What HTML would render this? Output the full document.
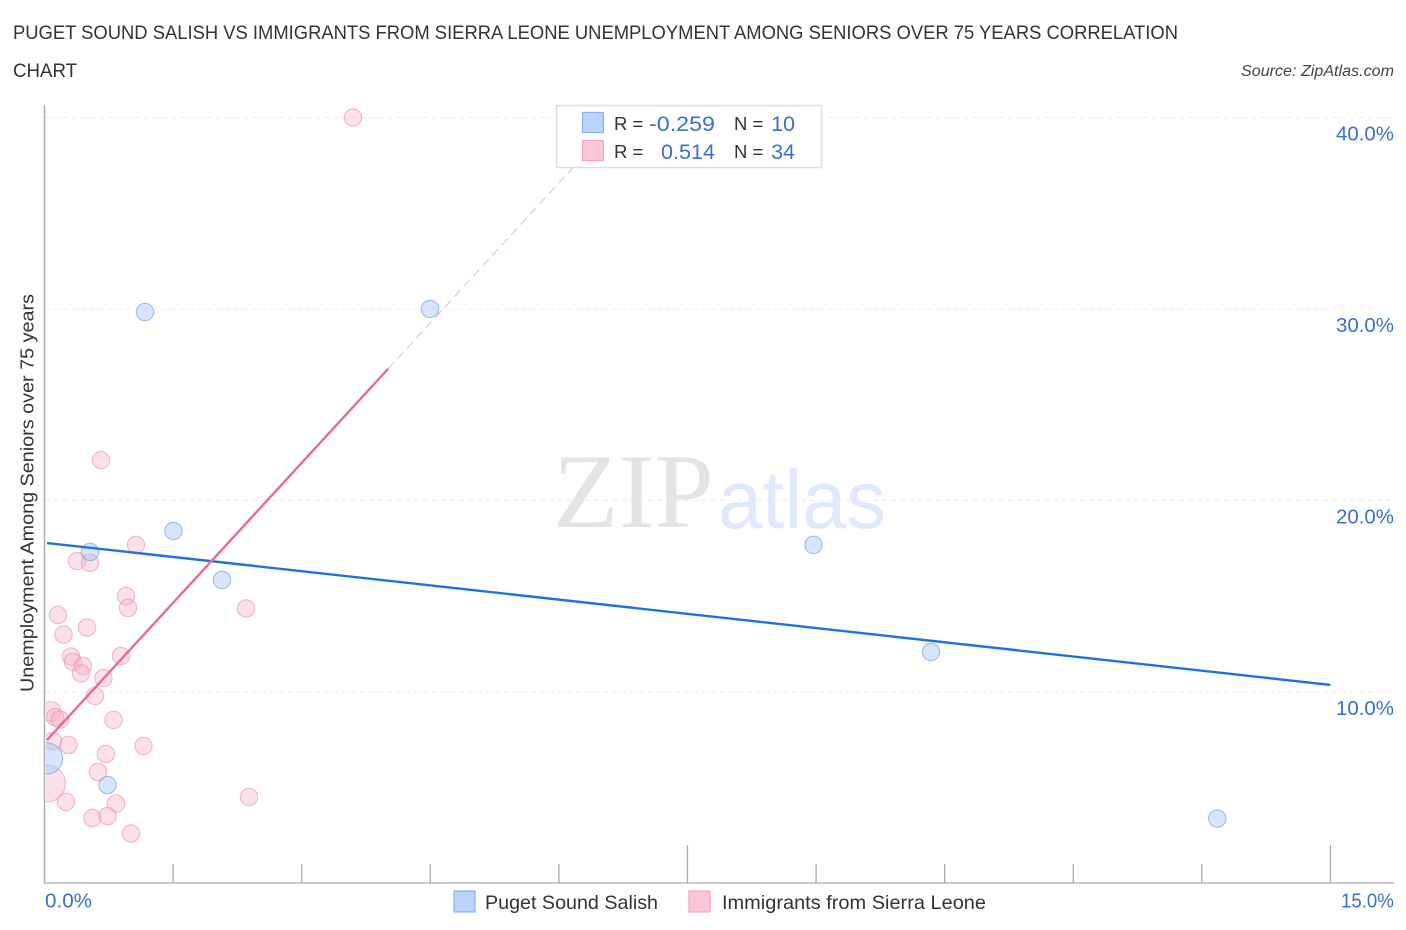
<!DOCTYPE html>
<html lang="en">
<head>
<meta charset="utf-8">
<title>Puget Sound Salish vs Immigrants from Sierra Leone Correlation Chart</title>
<style>
html,body{margin:0;padding:0;background:#fff;width:1406px;height:930px;overflow:hidden}
svg{display:block;font-family:"Liberation Sans",sans-serif}
</style>
</head>
<body>
<svg id="chart" xmlns="http://www.w3.org/2000/svg" width="1406" height="930" viewBox="0 0 1406 930">
  <defs><clipPath id="plot-clip"><rect x="46" y="100" width="1360" height="790"/></clipPath></defs>
  <rect x="0" y="0" width="1406" height="930" fill="#fff"/>
  <text x="13" y="39" font-size="19.5" fill="#333" textLength="1165" lengthAdjust="spacingAndGlyphs">PUGET SOUND SALISH VS IMMIGRANTS FROM SIERRA LEONE UNEMPLOYMENT AMONG SENIORS OVER 75 YEARS CORRELATION</text>
  <text x="13" y="77" font-size="19.5" fill="#333" textLength="64" lengthAdjust="spacingAndGlyphs">CHART</text>
  <text x="1241" y="76" font-size="15.5" font-style="italic" fill="#444" textLength="153" lengthAdjust="spacingAndGlyphs">Source: ZipAtlas.com</text>

  <g>
    <text x="553" y="527" font-family="'Liberation Serif',serif" font-size="106" fill="#e4e4e4" textLength="161" lengthAdjust="spacingAndGlyphs">ZIP</text>
    <text x="718" y="528" font-size="83" fill="#dfe9fb" textLength="168" lengthAdjust="spacingAndGlyphs">atlas</text>
  </g>

  <g id="grid"></g>
  <g id="axes">
    <line x1="44.5" y1="105" x2="44.5" y2="884" stroke="#aaa" stroke-width="1.5"/>
    <line x1="44" y1="883" x2="1394" y2="883" stroke="#bbb" stroke-width="1.5"/>
  </g>
  <g id="x-ticks"></g>
  <g id="y-labels"></g>
  <g id="x-labels"></g>

  <text transform="translate(33.5,493) rotate(-90)" text-anchor="middle" font-size="18.5" fill="#333" textLength="398" lengthAdjust="spacingAndGlyphs">Unemployment Among Seniors over 75 years</text>

  <g id="points" clip-path="url(#plot-clip)"></g>
  <g id="trends"></g>

  <g>
    <rect x="556.5" y="105.5" width="265" height="62" fill="#fff" stroke="#dedede" stroke-width="1.5"/>
    <rect x="582.5" y="112.5" width="21" height="20" fill="#b9d3f9" stroke="#88b2ec" stroke-width="1.2"/>
    <rect x="582.5" y="140.5" width="21" height="20" fill="#fcc5d8" stroke="#f3a5bf" stroke-width="1.2"/>
    <text x="614" y="130" font-size="18.5" fill="#333">R =</text>
    <text x="715" y="131" text-anchor="end" font-size="21.5" fill="#3a70cf" textLength="66" lengthAdjust="spacingAndGlyphs">-0.259</text>
    <text x="734" y="130" font-size="18.5" fill="#333">N =</text>
    <text x="795" y="131" text-anchor="end" font-size="21.5" fill="#3a70cf">10</text>
    <text x="614" y="158" font-size="18.5" fill="#333">R =</text>
    <text x="715" y="159" text-anchor="end" font-size="21.5" fill="#3a70cf" textLength="54" lengthAdjust="spacingAndGlyphs">0.514</text>
    <text x="734" y="158" font-size="18.5" fill="#333">N =</text>
    <text x="795" y="159" text-anchor="end" font-size="21.5" fill="#3a70cf">34</text>
  </g>

  <g>
    <g>
      <rect x="454" y="891" width="21" height="21" fill="#b9d3f9" stroke="#88b2ec" stroke-width="1.2"/>
      <text x="485" y="909" font-size="19.5" fill="#333" textLength="173" lengthAdjust="spacingAndGlyphs">Puget Sound Salish</text>
    </g>
    <g>
      <rect x="689" y="891" width="21" height="21" fill="#fcc5d8" stroke="#f3a5bf" stroke-width="1.2"/>
      <text x="722" y="909" font-size="19.5" fill="#333" textLength="264" lengthAdjust="spacingAndGlyphs">Immigrants from Sierra Leone</text>
    </g>
  </g>
</svg>
<script>
// ---- data ----
const yTickValues = [10, 20, 30, 40];
const yTickLabels = ["10.0%", "20.0%", "30.0%", "40.0%"];
const xTickValues = [0, 1.5, 3, 4.5, 6, 7.5, 9, 10.5, 12, 13.5, 15];
const xEndValues = [0, 15];
const xEndLabels = ["0.0%", "15.0%"];

const blueX = [1.172, 4.497, 1.505, 0.531, 2.07, 8.97, 10.34, 13.68, 0.735, 0.029];
const blueY = [29.84, 30.0, 18.41, 17.31, 15.85, 17.68, 12.09, 3.39, 5.14, 6.53];
const blueWeight = [1, 1, 1, 1, 1, 1, 1, 1, 1, 3.2];

const pinkX = [3.598, 0.659, 1.067, 0.379, 0.531, 0.951, 0.974, 2.35, 0.157, 0.496, 0.222, 0.309, 0.892, 0.332, 0.449, 0.426, 0.688, 0.589, 0.076, 0.122, 0.181, 0.805, 1.155, 0.717, 0.28, 0.099, 0.624, 0.029, 0.251, 0.834, 2.385, 0.56, 0.735, 1.009];
const pinkY = [40.0, 22.11, 17.68, 16.84, 16.74, 15.01, 14.39, 14.36, 14.02, 13.37, 13.0, 11.85, 11.88, 11.57, 11.36, 10.97, 10.73, 9.79, 8.98, 8.69, 8.56, 8.54, 7.18, 6.76, 7.23, 7.44, 5.82, 5.22, 4.26, 4.18, 4.52, 3.42, 3.52, 2.61];
const pinkWeight = [1, 1, 1, 1, 1, 1, 1, 1, 1, 1, 1, 1, 1, 1, 1, 1, 1, 1, 1.3, 1, 1, 1, 1, 1, 1, 1, 1, 4.5, 1, 1, 1, 1, 1, 1];

const blueTrendX = [0.029, 15];
const blueTrendY = [17.78, 10.37];
const pinkTrendX = [0.029, 4.007];
const pinkTrendY = [7.49, 26.87];
const pinkTrendExtX = [4.007, 6.7];
const pinkTrendExtY = [26.87, 40];

// ---- axis functions ----
const NS = "http://www.w3.org/2000/svg";
function xScale(v) { return 44.5 + v * 85.73; }
function yScale(v) { return 883.5 - v * 19.15; }
function radius(w) { return 8.7 * Math.sqrt(w); }
function make(tag, parent, attrs) {
  const el = document.createElementNS(NS, tag);
  for (const k in attrs) el.setAttribute(k, attrs[k]);
  parent.appendChild(el);
  return el;
}

// ---- gridlines and y labels ----
const gridG = document.getElementById("grid");
const yLabelG = document.getElementById("y-labels");
yTickValues.forEach(function (v, i) {
  const line = make("line", gridG, { x1: 45, x2: 1394, y1: yScale(v), y2: yScale(v), stroke: "#ececec", "stroke-width": 1, "stroke-dasharray": "5 4" });
  
  
  const label = make("text", yLabelG, { x: 1394, y: yScale(v) + 23, "text-anchor": "end", "font-size": 20.5, fill: "#3a70cf", textLength: 58, lengthAdjust: "spacingAndGlyphs" });
  label.textContent = yTickLabels[i];
  
  
});

// ---- x ticks and labels ----
const tickG = document.getElementById("x-ticks");
xTickValues.forEach(function (v, i) {
  if (i === 0) return;
  const top = i % 5 === 0 ? 845 : 864;
  const tick = make("line", tickG, { x1: xScale(v), x2: xScale(v), y1: top, y2: 883, stroke: "#aaa", "stroke-width": 1.3 });
  
  
});
const xLabelG = document.getElementById("x-labels");
xEndValues.forEach(function (v, i) {
  const anchorEnd = i === 1;
  const label = make("text", xLabelG, { x: anchorEnd ? xScale(v) + 63.5 : xScale(v) + 0.5, y: 907.5, "text-anchor": anchorEnd ? "end" : "start", "font-size": 20.5, fill: "#3a70cf", textLength: anchorEnd ? 53 : 47, lengthAdjust: "spacingAndGlyphs" });
  label.textContent = xEndLabels[i];
  
  
});

// ---- points ----
const pointG = document.getElementById("points");
pinkX.forEach(function (x, i) {
  const c = make("circle", pointG, { cx: xScale(x), cy: yScale(pinkY[i]), r: radius(pinkWeight[i]), fill: "#f8a8c2", "fill-opacity": 0.36, stroke: "#ec8cab", "stroke-opacity": 0.6, "stroke-width": 1.1 });
  
  
});
blueX.forEach(function (x, i) {
  const c = make("circle", pointG, { cx: xScale(x), cy: yScale(blueY[i]), r: radius(blueWeight[i]), fill: "#a9c9f6", "fill-opacity": 0.48, stroke: "#6b9fe4", "stroke-opacity": 0.65, "stroke-width": 1.1 });
  
  
});

// ---- trend lines ----
const trendG = document.getElementById("trends");
const blueTrend = make("line", trendG, { x1: xScale(blueTrendX[0]), y1: yScale(blueTrendY[0]), x2: xScale(blueTrendX[1]), y2: yScale(blueTrendY[1]), stroke: "#2272dc", "stroke-width": 2.4 });


const pinkTrend = make("line", trendG, { x1: xScale(pinkTrendX[0]), y1: yScale(pinkTrendY[0]), x2: xScale(pinkTrendX[1]), y2: yScale(pinkTrendY[1]), stroke: "#e96a94", "stroke-width": 2.4 });


const pinkExt = make("line", trendG, { x1: xScale(pinkTrendExtX[0]), y1: yScale(pinkTrendExtY[0]), x2: xScale(pinkTrendExtX[1]), y2: yScale(pinkTrendExtY[1]), stroke: "#f2b6c9", "stroke-width": 1, "stroke-dasharray": "9 5" });


</script>
</body>
</html>
